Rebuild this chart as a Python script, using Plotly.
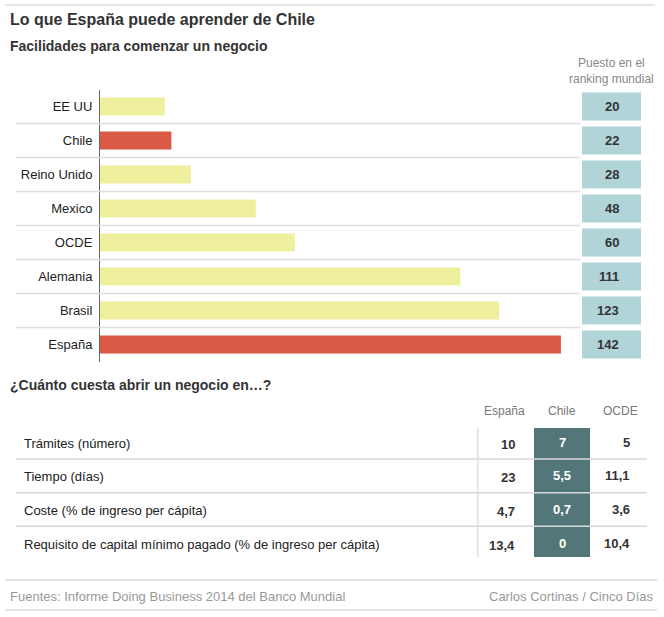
import plotly.graph_objects as go

# ranking "Facilidades para comenzar un negocio"
paises = ["EE UU", "Chile", "Reino Unido", "Mexico", "OCDE", "Alemania", "Brasil", "España"]
puesto = [20, 22, 28, 48, 60, 111, 123, 142]
destacados = ["Chile", "España"]

# tabla "¿Cuánto cuesta abrir un negocio en...?"
conceptos = ["Trámites (número)", "Tiempo (días)", "Coste (% de ingreso per cápita)",
             "Requisito de capital mínimo pagado (% de ingreso per cápita)"]
columnas = ["España", "Chile", "OCDE"]
espana = [10, 23, 4.7, 13.4]
chile = [7, 5.5, 0.7, 0]
ocde = [5, 11.1, 3.6, 10.4]

W, H = 664, 617
FONT = "Liberation Sans, Arial, sans-serif"


def fx(p):
    return p / W


def fy(p):
    return 1 - p / H


def num(v):
    return f"{v:g}".replace(".", ",")


colores = ["#da5b45" if p in destacados else "#eef09d" for p in paises]

fig = go.Figure()
fig.add_trace(go.Bar(x=puesto, y=paises, orientation="h", marker=dict(color=colores, line=dict(width=0)),
                     hoverinfo="skip", showlegend=False))
# traza invisible para fijar las categorias de la tabla
fig.add_trace(go.Scatter(x=columnas * len(conceptos), y=[c for c in conceptos for _ in columnas],
                         mode="markers", marker=dict(opacity=0), hoverinfo="skip", showlegend=False,
                         xaxis="x2", yaxis="y2"))

fig.update_layout(
    width=W, height=H, margin=dict(l=0, r=0, t=0, b=0),
    paper_bgcolor="white", plot_bgcolor="white",
    font=dict(family=FONT, size=13, color="#222"),
    bargap=0.47,
    xaxis=dict(domain=[fx(100), fx(580)], range=[0, 480 / 3.246], visible=False, fixedrange=True),
    yaxis=dict(domain=[fy(361.5), fy(89.5)], autorange="reversed", type="category",
               showline=True, linecolor="#666", linewidth=1, showgrid=False, zeroline=False,
               ticks="outside", ticklen=4, tickcolor="rgba(0,0,0,0)",
               tickfont=dict(size=13, color="#222")),
    xaxis2=dict(domain=[fx(475), fx(649)], type="category", categoryarray=columnas, range=[-0.5, 2.5],
                visible=False, anchor="y2"),
    yaxis2=dict(domain=[fy(560), fy(425.5)], type="category", categoryarray=conceptos, range=[3.5, -0.5],
                visible=False, anchor="x2"),
)

shapes = []
ann = []


def texto(x, y, t, size, color, xanchor="left", weight="normal"):
    ann.append(dict(x=fx(x), y=fy(y), xref="paper", yref="paper", xanchor=xanchor, yanchor="middle",
                    text=t, showarrow=False, align="center", font=dict(size=size, color=color, weight=weight)))


# lineas generales
for yy, x1 in [(5, 655), (580, 657), (610, 657)]:
    shapes.append(dict(type="line", xref="paper", yref="paper", x0=fx(5), x1=fx(x1), y0=fy(yy), y1=fy(yy),
                       line=dict(color="#dcdcdc", width=1.5)))

# separadores y cajas del ranking
for i in range(len(paises) - 1):
    shapes.append(dict(type="line", xref="paper", yref="y", x0=fx(16), x1=fx(580), y0=i + 0.5, y1=i + 0.5,
                       line=dict(color="#dedede", width=1.5)))
for i, (p, v) in enumerate(zip(paises, puesto)):
    shapes.append(dict(type="rect", xref="paper", yref="y", x0=fx(582), x1=fx(641), y0=i - 0.41, y1=i + 0.41,
                       fillcolor="#b0d4d7", line=dict(width=0), layer="below"))
    ann.append(dict(x=fx(621), y=p, xref="paper", yref="y", xanchor="right", yanchor="middle", text=str(v),
                    showarrow=False, font=dict(size=13, color="#333", weight="bold")))

texto(611, 71, "Puesto en el<br>ranking mundial", 12, "#888", xanchor="center")

# titulos
texto(8, 19, "Lo que España puede aprender de Chile", 16, "#333", weight="bold")
texto(8, 46, "Facilidades para comenzar un negocio", 14, "#333", weight="bold")
texto(8, 385, "¿Cuánto cuesta abrir un negocio en…?", 14, "#333", weight="bold")

# tabla
shapes.append(dict(type="rect", xref="x2", yref="y2 domain", x0=1 - 0.483, x1=1 + 0.483, y0=0.022, y1=0.981,
                   fillcolor="#537678", line=dict(width=0), layer="below"))
shapes.append(dict(type="line", xref="x2", yref="y2 domain", x0=-0.45, x1=-0.45, y0=0.022, y1=0.981,
                   line=dict(color="#d0d0d0", width=1)))
for i in range(len(conceptos) - 1):
    shapes.append(dict(type="line", xref="paper", yref="y2", x0=fx(16), x1=fx(647), y0=i + 0.5, y1=i + 0.5,
                       line=dict(color="#d8d8d8", width=1.5)))

for c in columnas:
    ann.append(dict(x=c, y=fy(411), xref="x2", yref="paper", xanchor="center", yanchor="middle", text=c,
                    showarrow=False, font=dict(size=12, color="#777")))

for i, c in enumerate(conceptos):
    ann.append(dict(x=fx(22), y=c, xref="paper", yref="y2", xanchor="left", yanchor="middle", text=c,
                    showarrow=False, yshift=-1, font=dict(size=13, color="#222")))
    ann.append(dict(x="España", y=c, xref="x2", yref="y2", xanchor="right", yanchor="middle", xshift=13,
                    yshift=-2, text=num(espana[i]), showarrow=False,
                    font=dict(size=13, color="#333", weight="bold")))
    ann.append(dict(x="Chile", y=c, xref="x2", yref="y2", xanchor="center", yanchor="middle",
                    text=num(chile[i]), showarrow=False, font=dict(size=13, color="white", weight="bold")))
    ann.append(dict(x="OCDE", y=c, xref="x2", yref="y2", xanchor="right", yanchor="middle", xshift=12,
                    text=num(ocde[i]), showarrow=False, font=dict(size=13, color="#333", weight="bold")))

# pie
texto(8, 596.5, "Fuentes: Informe Doing Business 2014 del Banco Mundial", 13, "#999")
texto(655, 596.5, "Carlos Cortinas / Cinco Días", 13, "#999", xanchor="right")

fig.update_layout(shapes=shapes, annotations=ann)
fig.write_html("out.html", config={"displayModeBar": False},
               post_script="document.body.style.margin='0px';")
